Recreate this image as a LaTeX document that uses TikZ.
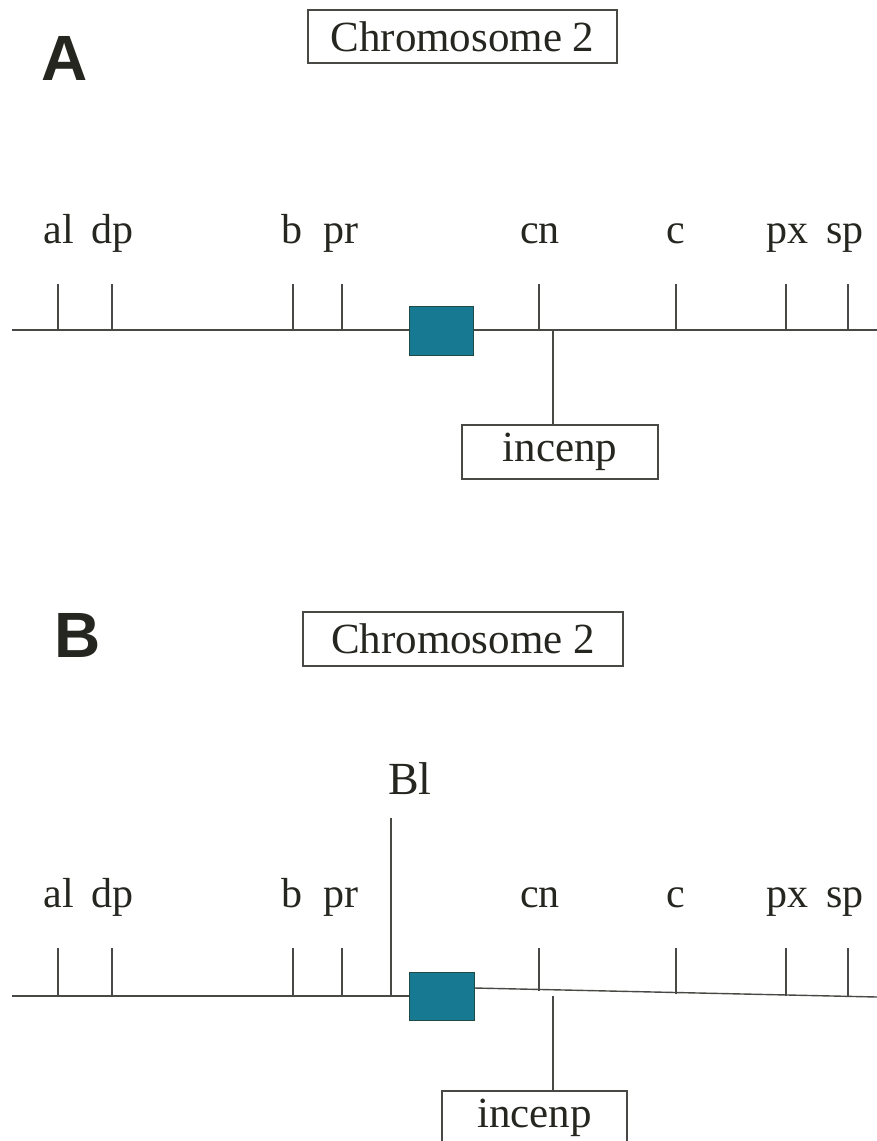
\documentclass[tikz,border=0pt]{standalone}
\usepackage{fontspec}
\setmainfont{Liberation Serif}
\newfontfamily\panelfont{Liberation Sans}
\definecolor{ink}{RGB}{38,38,32}
\definecolor{rule}{RGB}{72,72,68}
\definecolor{centromere}{RGB}{24,122,146}
\definecolor{centroedge}{RGB}{32,74,68}
\begin{document}
\begin{tikzpicture}[x=1pt,y=-1pt,
  lbl/.style={anchor=base,text=ink,font=\fontsize{42}{50}\selectfont,inner sep=0pt},
  panel/.style={anchor=base,text=ink,font=\panelfont\bfseries\fontsize{64}{70}\selectfont,inner sep=0pt},
  labelbox/.style={draw=rule,line width=1.4pt,text=ink,font=\fontsize{43}{50}\selectfont,
    minimum height=54pt,inner sep=0pt},
  chrom/.style={draw=rule,line width=1.4pt},
  tickline/.style={draw=rule,line width=1.3pt},
  centro/.style={draw=centroedge,fill=centromere,line width=1pt,
    minimum width=65pt,minimum height=48pt,inner sep=0pt}]
\useasboundingbox (0,0) rectangle (877,1141);

% ---------------- panel A: wild-type chromosome 2 ----------------
\node[panel] (pA) at (65,80) {A};
\node[labelbox,minimum width=309pt,minimum height=53pt] (chrA) at (462.5,36.5) {Chromosome 2};

\coordinate (lA0) at (12,330);
\coordinate (lA1) at (877,330);
\draw[chrom] (lA0) -- (lA1);

\foreach \x in {58,112,293,342,539,676,786,848}
  \draw[tickline] (\x,284) -- (\x,330);
\foreach \x/\n in {59/al,112/dp,292/b,341/pr,540/cn,676/c,787/px,845/sp}
  \node[lbl] (A-\n) at (\x,243) {\n};

\node[centro,minimum width=64pt,minimum height=49pt] (sqA) at (441,330.5) {};

\coordinate (cnA) at (553,330);
\node[labelbox,minimum width=196pt] (incA) at (560,452) {incenp};
\draw[chrom] (cnA) -- (cnA |- incA.north);

% ---------------- panel B: chromosome 2 carrying Bl ----------------
\node[panel] (pB) at (78,657) {B};
\node[labelbox,minimum width=320pt] (chrB) at (463,639) {Chromosome 2};

\coordinate (lB0) at (12,996);
\coordinate (lB1) at (409,996);
\coordinate (lB2) at (474,988);
\coordinate (lB3) at (877,997);
\draw[chrom] (lB0) -- (lB1);
\draw[chrom] (lB2) -- (lB3);

\foreach \x in {58,112,293,342}
  \draw[tickline] (\x,948) -- (\x,996);
\foreach \x/\y in {539/990.5,676/993.5,786/996,848/997.4}
  \draw[tickline] (\x,948) -- (\x,\y);
\foreach \x/\n in {59/al,112/dp,292/b,341/pr,540/cn,676/c,787/px,845/sp}
  \node[lbl] (B-\n) at (\x,907) {\n};

\coordinate (blTop) at (391,818);
\coordinate (blBase) at (391,996);
\draw[chrom] (blTop) -- (blBase);
\node[lbl,font=\fontsize{46}{52}\selectfont] (Bl) at (410,794) {Bl};

\node[centro] (sqB) at (441.5,996) {};

\coordinate (cnB) at (553,996);
\node[labelbox,minimum width=185pt] (incB) at (534.5,1118) {incenp};
\draw[chrom] (cnB) -- (cnB |- incB.north);
\end{tikzpicture}
\end{document}
